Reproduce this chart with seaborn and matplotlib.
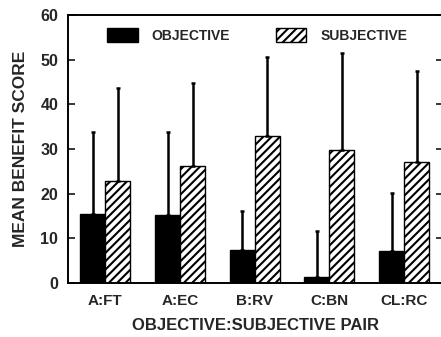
import matplotlib
matplotlib.use("Agg")
import matplotlib.pyplot as plt
import seaborn as sns
import pandas as pd
import numpy as np
from matplotlib.patches import Patch

pairs = ["A:FT", "A:EC", "B:RV", "C:BN", "CL:RC"]
series = ["OBJECTIVE", "SUBJECTIVE"]
objective_mean = [15.4, 15.2, 7.4, 1.3, 7.1]
objective_sd = [18.4, 18.6, 8.7, 10.3, 13.0]
subjective_mean = [22.8, 26.2, 32.9, 29.8, 27.2]
subjective_sd = [20.8, 18.5, 17.7, 21.6, 20.2]
yticks = [0, 10, 20, 30, 40, 50, 60]

sns.set_theme(style="ticks")
plt.rcParams["font.family"] = ["Liberation Sans", "DejaVu Sans"]
plt.rcParams["font.weight"] = "bold"
plt.rcParams["hatch.linewidth"] = 1.5

df = pd.DataFrame({
    "pair": pairs * 2,
    "kind": [series[0]] * len(pairs) + [series[1]] * len(pairs),
    "mean": objective_mean + subjective_mean,
    "sd": objective_sd + subjective_sd,
})

fig = plt.figure(figsize=(4.41, 3.37), dpi=100)
ax = fig.add_axes([68 / 441, 54 / 337, 375 / 441, 268 / 337])

sns.barplot(data=df, x="pair", y="mean", hue="kind", order=pairs, hue_order=series,
            palette=["black", "white"], edgecolor="black", linewidth=1.0,
            width=0.67, errorbar=None, legend=False, ax=ax)

HATCH = "////"
for cont, sds, hatch in zip(ax.containers, [objective_sd, subjective_sd], [None, HATCH]):
    xs, ys = [], []
    for bar in cont:
        if hatch:
            bar.set_hatch(hatch)
        xs.append(bar.get_x() + bar.get_width() / 2)
        ys.append(bar.get_height())
    ax.errorbar(xs, ys, yerr=[np.zeros(len(sds)), sds], fmt="none", ecolor="black",
                elinewidth=1.8, capsize=1.5, capthick=1.8)

ax.set_xlim(-0.5, 4.52)
ax.set_ylim(0, 60)
ax.set_yticks(yticks)
ax.tick_params(axis="y", direction="in", length=5, width=1.3, right=True, labelsize=11.5, pad=7)
ax.tick_params(axis="x", length=0, labelsize=11, pad=8)
for lab in ax.get_xticklabels() + ax.get_yticklabels():
    lab.set_fontweight("bold")
for s in ax.spines.values():
    s.set_linewidth(1.4)
    s.set_color("black")

ax.set_xlabel("OBJECTIVE:SUBJECTIVE PAIR", fontsize=12, fontweight="bold", labelpad=7)
ax.set_ylabel("MEAN BENEFIT SCORE", fontsize=12.5, fontweight="bold", labelpad=9)

handles = [Patch(facecolor="black", edgecolor="black"),
           Patch(facecolor="white", edgecolor="black", hatch=HATCH)]
ax.legend(handles, series, loc="upper left", bbox_to_anchor=(0.104, 0.951), ncol=2,
          frameon=False, borderpad=0, borderaxespad=0, handlelength=2.2, handleheight=1.2,
          handletextpad=1.0, columnspacing=3.3, prop={"weight": "bold", "size": 10})

fig.savefig("out.png", dpi=100)
